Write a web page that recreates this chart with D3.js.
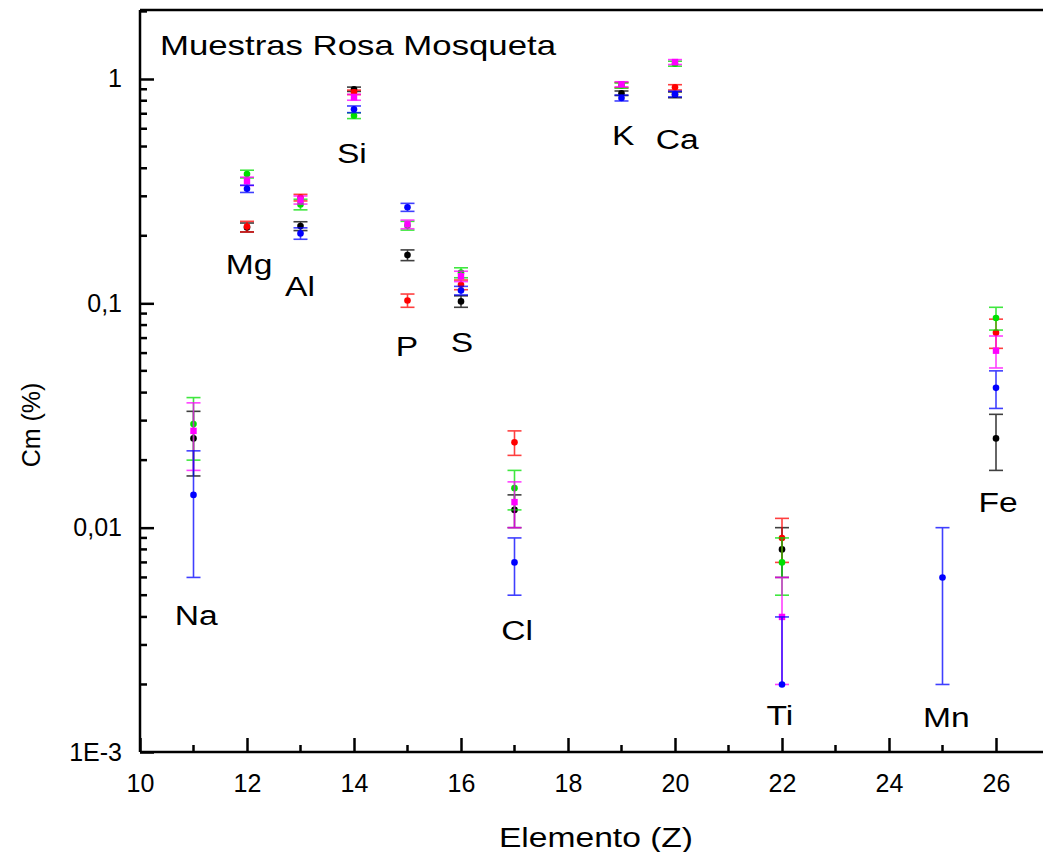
<!DOCTYPE html>
<html>
<head>
<meta charset="utf-8">
<script src="https://cdn.jsdelivr.net/npm/d3@7"></script>
<style>
  html, body { margin: 0; padding: 0; background: #fff; }
  svg { display: block; font-family: "Liberation Sans", Arial, sans-serif; }
</style>
</head>
<body>
<div id="chart"></div>
<script>
// Elementos (Z) y simbolos
const elementZ = [11, 12, 13, 14, 15, 16, 17, 19, 20, 22, 25, 26];
const elementSym = ['Na', 'Mg', 'Al', 'Si', 'P', 'S', 'Cl', 'K', 'Ca', 'Ti', 'Mn', 'Fe'];

// Cm (%) por muestra, null = sin dato
const blackVal   = [0.025, 0.218, 0.221, 0.900, 0.164, 0.102, 0.012, 0.864, 0.850, 0.008, null, 0.025];
const blackErr   = [0.008, 0.010, 0.010, 0.020, 0.009, 0.006, 0.002, 0.020, 0.025, 0.002, null, 0.007];
const redVal     = [null, 0.220, 0.296, 0.872, 0.103, 0.121, 0.024, 0.940, 0.918, 0.009, null, 0.074];
const redErr     = [null, 0.012, 0.010, 0.020, 0.007, 0.006, 0.003, 0.025, 0.025, 0.002, null, 0.011];
const greenVal   = [0.029, 0.377, 0.276, 0.686, 0.222, 0.137, 0.015, 0.935, 1.170, 0.007, null, 0.086];
const greenErr   = [0.009, 0.015, 0.015, 0.020, 0.010, 0.007, 0.003, 0.025, 0.030, 0.002, null, 0.010];
const magentaVal = [0.027, 0.350, 0.289, 0.829, 0.225, 0.132, 0.013, 0.947, 1.190, 0.004, null, 0.0615];
const magentaErr = [0.009, 0.015, 0.012, 0.025, 0.010, 0.007, 0.003, 0.025, 0.030, 0.002, null, 0.010];
const blueVal    = [0.014, 0.324, 0.205, 0.733, 0.268, 0.114, 0.007, 0.823, 0.857, 0.002, 0.006, 0.042];
const blueErr    = [0.008, 0.012, 0.012, 0.025, 0.011, 0.005, 0.002, 0.025, 0.025, 0.002, 0.004, 0.008];

// Centro de las etiquetas (en unidades de datos: Z y Cm)
const labelZ  = [11.05, 12.04, 12.99, 13.96, 14.99, 16.02, 17.05, 19.03, 20.04, 21.96, 25.07, 26.04];
const labelCm = [0.0041, 0.150, 0.119, 0.468, 0.0645, 0.0672, 0.0035, 0.563, 0.540, 0.00146, 0.00143, 0.0130];

const xTicks = [10, 12, 14, 16, 18, 20, 22, 24, 26];
const yTicks = [0.001, 0.01, 0.1, 1];
const yTickLabels = ['1E-3', '0,01', '0,1', '1'];

const series = [
  { name: 'black', color: '#000000', vals: blackVal, errs: blackErr, square: false },
  { name: 'red', color: '#ff0000', vals: redVal, errs: redErr, square: false },
  { name: 'green', color: '#00e000', vals: greenVal, errs: greenErr, square: false },
  { name: 'magenta', color: '#ff00ff', vals: magentaVal, errs: magentaErr, square: true },
  { name: 'blue', color: '#0000ff', vals: blueVal, errs: blueErr, square: false }
];

const W = 1043, H = 852;
const plotLeft = 140, plotBottom = 752, plotTop = 10;
const textStretch = 1.2; // el texto del original se ve ensanchado

const svg = d3.select('#chart').append('svg')
  .attr('width', W)
  .attr('height', H);

const x = d3.scaleLinear().domain([10, 27]).range([plotLeft, plotLeft + 17 * 53.5]);
const y = d3.scaleLog().domain([0.001, 2.03]).range([plotBottom, plotTop]);

// Marco: linea superior
svg.append('line')
  .attr('x1', plotLeft).attr('x2', W)
  .attr('y1', plotTop).attr('y2', plotTop)
  .attr('stroke', '#000').attr('stroke-width', 2.5);

// Eje X con ticks hacia adentro
const xAxis = d3.axisBottom(x)
  .tickValues(xTicks)
  .tickSize(-14)
  .tickPadding(22)
  .tickFormat(d3.format('d'));

const gx = svg.append('g')
  .attr('transform', `translate(0,${plotBottom})`)
  .call(xAxis);
gx.select('.domain').attr('stroke-width', 2.5).attr('d', `M${plotLeft},0H${W}`);
gx.selectAll('.tick line').attr('stroke-width', 2.5);
gx.selectAll('.tick text').attr('font-size', 25).attr('font-family', '"Liberation Sans", Arial, sans-serif');

// ticks menores del eje X
const xMinor = d3.range(11, 27, 2);
gx.selectAll('.minor')
  .data(xMinor)
  .enter()
  .append('line')
  .attr('x1', d => x(d)).attr('x2', d => x(d))
  .attr('y1', 0).attr('y2', -7)
  .attr('stroke', '#000').attr('stroke-width', 2.5);

// Eje Y logaritmico
const yAxis = d3.axisLeft(y)
  .tickValues(yTicks)
  .tickSize(-14)
  .tickPadding(18)
  .tickFormat((d, i) => yTickLabels[i]);

const gy = svg.append('g')
  .attr('transform', `translate(${plotLeft},0)`)
  .call(yAxis);
gy.select('.domain').attr('stroke-width', 2.5).attr('d', `M0,${plotBottom}V${plotTop}`);
gy.selectAll('.tick line').attr('stroke-width', 2.5);
gy.selectAll('.tick text').attr('font-size', 25).attr('font-family', '"Liberation Sans", Arial, sans-serif');

// ticks menores del eje Y (2..9 de cada decada)
const yMinor = [];
[0.001, 0.01, 0.1, 1].forEach(dec => {
  for (let k = 2; k <= 9; k++) {
    if (dec * k <= 2.03) yMinor.push(dec * k);
  }
});
gy.selectAll('.minor')
  .data(yMinor)
  .enter()
  .append('line')
  .attr('x1', 0).attr('x2', 7)
  .attr('y1', d => y(d)).attr('y2', d => y(d))
  .attr('stroke', '#000').attr('stroke-width', 2.5);

// Titulos de los ejes
svg.append('text')
  .attr('transform', `translate(596,847) scale(${textStretch},1)`)
  .attr('text-anchor', 'middle')
  .attr('font-size', 28)
  .text('Elemento (Z)');

svg.append('text')
  .attr('transform', 'translate(40,425) rotate(-90)')
  .attr('text-anchor', 'middle')
  .attr('font-size', 25)
  .text('Cm (%)');

// Titulo interno
svg.append('text')
  .attr('x', 160)
  .attr('y', 55)
  .attr('font-size', 28)
  .attr('textLength', 396)
  .attr('lengthAdjust', 'spacingAndGlyphs')
  .text('Muestras Rosa Mosqueta');

// Barras de error y puntos
const capW = 7;
series.forEach(s => {
  const pts = elementZ.map((z, i) => ({ z, v: s.vals[i], e: s.errs[i] }))
    .filter(d => d.v !== null);

  const g = svg.append('g').attr('class', 'series-' + s.name);

  const bars = g.selectAll('.err')
    .data(pts)
    .enter()
    .append('g')
    .attr('class', 'err')
    .attr('stroke', s.color)
    .attr('stroke-width', 1.6)
    .attr('opacity', 0.75);

  bars.append('line')
    .attr('x1', d => x(d.z)).attr('x2', d => x(d.z))
    .attr('y1', d => y(d.v + d.e))
    .attr('y2', d => d.v - d.e > 0 ? y(d.v - d.e) : y(d.v));

  // tapa superior
  bars.append('line')
    .attr('x1', d => x(d.z) - capW).attr('x2', d => x(d.z) + capW)
    .attr('y1', d => y(d.v + d.e)).attr('y2', d => y(d.v + d.e));

  // tapa inferior (si es positiva)
  bars.filter(d => d.v - d.e > 0).append('line')
    .attr('x1', d => x(d.z) - capW).attr('x2', d => x(d.z) + capW)
    .attr('y1', d => y(d.v - d.e)).attr('y2', d => y(d.v - d.e));

  if (s.square) {
    g.selectAll('.pt')
      .data(pts)
      .enter()
      .append('rect')
      .attr('x', d => x(d.z) - 3.2)
      .attr('y', d => y(d.v) - 3.2)
      .attr('width', 6.4)
      .attr('height', 6.4)
      .attr('fill', s.color);
  } else {
    g.selectAll('.pt')
      .data(pts)
      .enter()
      .append('circle')
      .attr('cx', d => x(d.z))
      .attr('cy', d => y(d.v))
      .attr('r', 3.3)
      .attr('fill', s.color);
  }
});

// Etiquetas de los elementos
svg.selectAll('.elem')
  .data(elementSym)
  .enter()
  .append('text')
  .attr('class', 'elem')
  .attr('transform', (d, i) => `translate(${x(labelZ[i])},${y(labelCm[i])}) scale(${textStretch},1)`)
  .attr('text-anchor', 'middle')
  .attr('dy', '0.36em')
  .attr('font-size', 28)
  .text(d => d);
</script>
</body>
</html>
